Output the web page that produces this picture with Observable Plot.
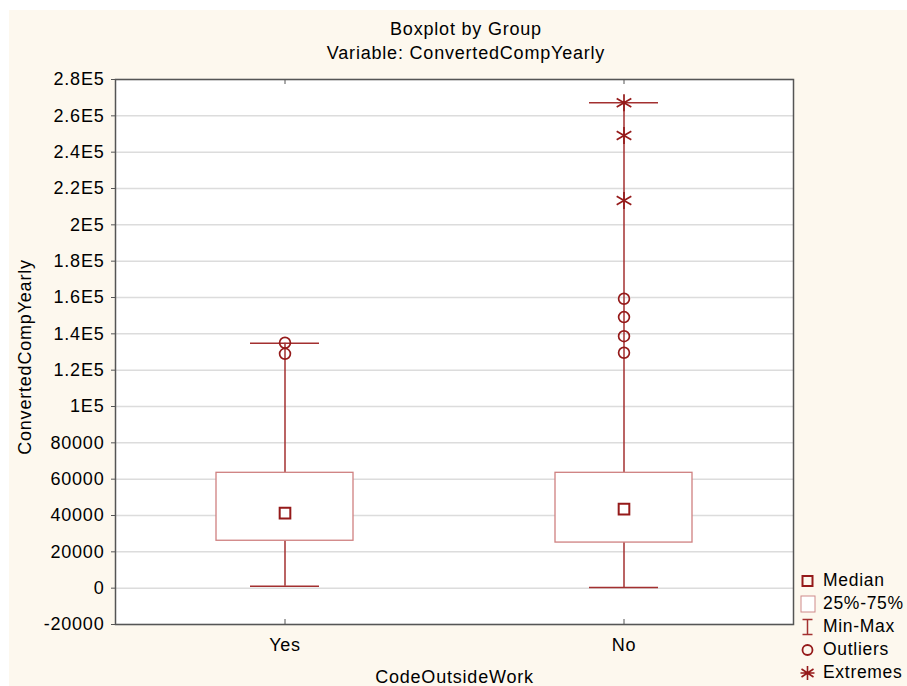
<!DOCTYPE html>
<html>
<head>
<meta charset="utf-8">
<script src="https://cdn.jsdelivr.net/npm/d3@7"></script>
<script src="https://cdn.jsdelivr.net/npm/@observablehq/plot@0.6"></script>
<style>
  html, body { margin: 0; padding: 0; background: #ffffff; }
  #wrap { position: relative; width: 907px; height: 686px; overflow: hidden; font-family: "Liberation Sans", Arial, sans-serif; color: #000; font-size: 18px; letter-spacing: 0.8px; }
  #bg { position: absolute; left: 9px; top: 10px; width: 898px; height: 676px; background: #fdf8ee; }
  .lbl { position: absolute; line-height: 20px; height: 20px; text-align: center; white-space: nowrap; }
  #t1 { left: 0; width: 932px; top: 19px; }
  #t2 { left: 0; width: 932px; top: 43px; }
  #xl { left: 0; width: 909px; top: 669px; line-height: 16px; height: 16px; }
  #yl { left: -125px; width: 300px; top: 347px; transform: rotate(-90deg); }
  #chart { position: absolute; left: 0; top: 64px; }
  #chart svg { font-size: 18px; letter-spacing: 0.8px; }
  #legend { position: absolute; left: 799px; top: 569.5px; font-size: 17.5px; letter-spacing: 0.7px; }
  #legend .row { height: 22.9px; display: flex; align-items: center; white-space: nowrap; }
  #legend svg { width: 18px; height: 18px; margin-right: 6px; flex: none; }
</style>
</head>
<body>
<div id="wrap">
  <div id="bg"></div>
  <div id="chart"></div>
  <div class="lbl" id="t1">Boxplot by Group</div>
  <div class="lbl" id="t2">Variable: ConvertedCompYearly</div>
  <div class="lbl" id="xl">CodeOutsideWork</div>
  <div class="lbl" id="yl">ConvertedCompYearly</div>
  <div id="legend">
    <div class="row"><svg viewBox="0 0 18 18"><rect x="3.5" y="4" width="10" height="10" fill="none" stroke="#951a1a" stroke-width="2"/></svg>Median</div>
    <div class="row"><svg viewBox="0 0 18 18"><rect x="2" y="1" width="14" height="16" fill="#fff" stroke="#cf8a8a" stroke-width="1"/></svg>25%-75%</div>
    <div class="row"><svg viewBox="0 0 18 18"><path d="M3.5,1.5H13.5M8.5,1.5V16.5M3.5,16.5H13.5" fill="none" stroke="#a33030" stroke-width="1.5"/></svg>Min-Max</div>
    <div class="row"><svg viewBox="0 0 18 18"><circle cx="8.5" cy="9" r="5" fill="none" stroke="#951a1a" stroke-width="1.8"/></svg>Outliers</div>
    <div class="row"><svg viewBox="0 0 18 18"><path d="M8.5,2V16M2.5,5L14.5,13M2.5,13L14.5,5M1.5,9H15.5" fill="none" stroke="#951a1a" stroke-width="1.6"/></svg>Extremes</div>
  </div>
</div>
<script>
// ---- data ----
const groups = ["Yes", "No"];
const mins = [1100, 300];
const q1s = [26100, 25100];
const medians = [41300, 43500];
const q3s = [63500, 63500];
const maxs = [134800, 267200];

const outlierGroups = ["Yes", "Yes", "No", "No", "No", "No"];
const outlierValues = [135100, 129000, 159300, 149200, 138700, 129600];

const extremeGroups = ["No", "No", "No"];
const extremeValues = [267200, 249200, 213400];

const yTicks = [-20000, 0, 20000, 40000, 60000, 80000, 100000, 120000, 140000, 160000, 180000, 200000, 220000, 240000, 260000, 280000];
const yTickLabels = ["-20000", "0", "20000", "40000", "60000", "80000", "1E5", "1.2E5", "1.4E5", "1.6E5", "1.8E5", "2E5", "2.2E5", "2.4E5", "2.6E5", "2.8E5"];

// ---- build ----
const boxes = groups.map((g, i) => ({group: g, min: mins[i], q1: q1s[i], median: medians[i], q3: q3s[i], max: maxs[i]}));
const outliers = outlierGroups.map((g, i) => ({group: g, value: outlierValues[i]}));
const extremes = extremeGroups.map((g, i) => ({group: g, value: extremeValues[i]}));
const labelMap = new Map(yTicks.map((t, i) => [t, yTickLabels[i]]));

const W = 907, H = 622, mL = 115, mR = 114, mT = 15, mB = 62;
const yDomain = [yTicks[0], yTicks[yTicks.length - 1]];
const pxToUnits = (yDomain[1] - yDomain[0]) / (H - mT - mB);
const tickLen = 5 * pxToUnits;

const boxColor = "#cf8080";
const whiskColor = "#a33030";
const markColor = "#951a1a";

const chart = Plot.plot({
  width: W, height: H,
  marginLeft: mL, marginRight: mR, marginTop: mT, marginBottom: mB,
  style: {background: "transparent", fontFamily: "'Liberation Sans', Arial, sans-serif", color: "#000", overflow: "visible"},
  x: {domain: groups, padding: 0},
  y: {domain: yDomain},
  marks: [
    Plot.frame({fill: "#fff", stroke: "none"}),
    Plot.gridY(yTicks, {stroke: "#dcdcdc", strokeOpacity: 1, strokeWidth: 1.5}),
    // inward category ticks (top and bottom)
    Plot.ruleX(groups, {x: d => d, y1: yDomain[1], y2: yDomain[1] - tickLen, stroke: "#555"}),
    Plot.ruleX(groups, {x: d => d, y1: yDomain[0], y2: yDomain[0] + tickLen, stroke: "#555"}),
    // whiskers
    Plot.ruleX(boxes, {x: "group", y1: "q3", y2: "max", stroke: whiskColor, strokeWidth: 1.5}),
    Plot.ruleX(boxes, {x: "group", y1: "q1", y2: "min", stroke: whiskColor, strokeWidth: 1.5}),
    Plot.tickY(boxes, {x: "group", y: "max", stroke: whiskColor, strokeWidth: 1.5, insetLeft: 135, insetRight: 135}),
    Plot.tickY(boxes, {x: "group", y: "min", stroke: whiskColor, strokeWidth: 1.5, insetLeft: 135, insetRight: 135}),
    // boxes
    Plot.barY(boxes, {x: "group", y1: "q1", y2: "q3", fill: "#fff", stroke: boxColor, strokeWidth: 1.3, insetLeft: 101, insetRight: 101}),
    // medians
    Plot.dot(boxes, {x: "group", y: "median", symbol: "square", r: 6, stroke: markColor, strokeWidth: 2, fill: "#fff"}),
    // outliers and extremes
    Plot.dot(outliers, {x: "group", y: "value", symbol: "circle", r: 5.4, stroke: markColor, strokeWidth: 1.7, fill: "none"}),
    Plot.dot(extremes, {x: "group", y: "value", symbol: "asterisk", r: 8, stroke: markColor, strokeWidth: 1.7}),
    // frame and axes
    Plot.frame({stroke: "#555", strokeWidth: 1.5}),
    Plot.axisY(yTicks, {anchor: "left", tickSize: 4, tickPadding: 7, tickFormat: d => labelMap.get(d), stroke: "#555", label: null}),
    Plot.axisX({anchor: "bottom", tickSize: 0, tickPadding: 14, label: null}),
  ]
});
document.getElementById("chart").appendChild(chart);
</script>
</body>
</html>
